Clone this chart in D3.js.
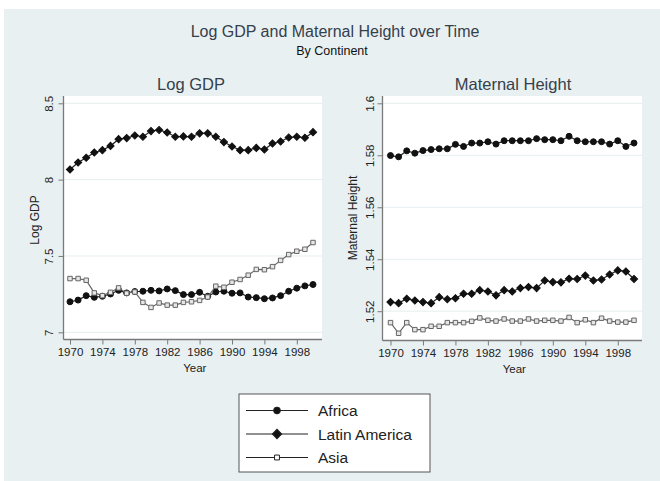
<!DOCTYPE html>
<html>
<head>
<meta charset="utf-8">
<script src="https://cdn.jsdelivr.net/npm/d3@7"></script>
<style>
  body { margin: 0; background: #fff; }
  svg text { font-family: "Liberation Sans", Arial, Helvetica, sans-serif; }
</style>
</head>
<body>
<svg id="chart" width="660" height="481"></svg>
<script>
// values
var years = d3.range(1970, 2001);
var xTicks = [1970, 1974, 1978, 1982, 1986, 1990, 1994, 1998];

var gdpAfrica = [7.200, 7.211, 7.240, 7.229, 7.236, 7.251, 7.275, 7.258, 7.267, 7.269,
    7.275, 7.271, 7.284, 7.273, 7.247, 7.247, 7.262, 7.236, 7.264, 7.269,
    7.256, 7.258, 7.231, 7.227, 7.220, 7.225, 7.240, 7.269, 7.289, 7.304, 7.313];
var gdpLatAm = [8.066, 8.112, 8.143, 8.178, 8.193, 8.221, 8.265, 8.272, 8.289, 8.281,
    8.318, 8.325, 8.309, 8.281, 8.283, 8.281, 8.303, 8.303, 8.281, 8.246,
    8.217, 8.193, 8.193, 8.208, 8.197, 8.237, 8.250, 8.276, 8.281, 8.274, 8.311];
var gdpAsia = [7.352, 7.352, 7.341, 7.258, 7.240, 7.262, 7.291, 7.256, 7.264, 7.196,
    7.163, 7.192, 7.178, 7.178, 7.196, 7.200, 7.209, 7.231, 7.302, 7.295,
    7.328, 7.346, 7.374, 7.412, 7.410, 7.430, 7.471, 7.509, 7.531, 7.544, 7.588];

var heightAfrica = [1.5799, 1.5794, 1.5817, 1.5808, 1.5818, 1.5822, 1.5825, 1.5825, 1.5842, 1.5834,
    1.5847, 1.5847, 1.5852, 1.5843, 1.5856, 1.5856, 1.5856, 1.5856, 1.5864, 1.5860,
    1.5860, 1.5856, 1.5873, 1.5856, 1.5852, 1.5852, 1.5852, 1.5843, 1.5856, 1.5834, 1.5847];
var heightLatAm = [1.5235, 1.5231, 1.5248, 1.5241, 1.5235, 1.5231, 1.5254, 1.5246, 1.5250, 1.5267,
    1.5267, 1.5281, 1.5276, 1.5261, 1.5281, 1.5276, 1.5289, 1.5293, 1.5289, 1.5318,
    1.5312, 1.5311, 1.5325, 1.5324, 1.5337, 1.5318, 1.5322, 1.5341, 1.5357, 1.5353, 1.5324];
var heightAsia = [1.5156, 1.5115, 1.5156, 1.5129, 1.5129, 1.5142, 1.5142, 1.5156, 1.5156, 1.5156,
    1.5161, 1.5174, 1.5165, 1.5162, 1.5170, 1.5162, 1.5162, 1.5170, 1.5162, 1.5165,
    1.5165, 1.5162, 1.5176, 1.5156, 1.5167, 1.5156, 1.5173, 1.5162, 1.5158, 1.5158, 1.5165];

var gdpTicks = [7, 7.5, 8, 8.5];
var heightTicks = [1.52, 1.54, 1.56, 1.58, 1.6];

var seriesNames = ['Africa', 'Latin America', 'Asia'];

var bg = '#e9f0f2';
var axisColor = '#7a7a7a';

var svg = d3.select('#chart');

svg.append('rect')
    .attr('x', 4).attr('y', 9)
    .attr('width', 656).attr('height', 472)
    .attr('fill', bg);

svg.append('text')
    .attr('x', 335).attr('y', 37)
    .attr('text-anchor', 'middle')
    .attr('font-size', '16px')
    .attr('fill', '#34404c')
    .text('Log GDP and Maternal Height over Time');

svg.append('text')
    .attr('x', 332).attr('y', 55)
    .attr('text-anchor', 'middle')
    .attr('font-size', '12.5px')
    .attr('fill', '#111')
    .text('By Continent');

// marker shapes (plot size / legend size)
var markers = {
    'Africa': { type: d3.symbolCircle, size: 28, legendSize: 36, rotate: 0, fill: '#111', stroke: '#111', line: '#222' },
    'Latin America': { type: d3.symbolSquare, size: 26, legendSize: 44, rotate: 45, fill: '#111', stroke: '#111', line: '#222' },
    'Asia': { type: d3.symbolSquare, size: 20, legendSize: 24, rotate: 0, fill: '#e6e6e6', stroke: '#666', line: '#666' }
};

function drawPanel(opts) {
    var g = svg.append('g');

    var x = d3.scaleLinear().domain([1970, 2000]).range([opts.left + opts.padL, opts.right - opts.padR]);
    var y = d3.scaleLinear().domain(opts.yDomain).range(opts.yRange);

    g.append('rect')
        .attr('x', opts.left).attr('y', opts.top)
        .attr('width', opts.right - opts.left)
        .attr('height', opts.bottom - opts.top)
        .attr('fill', '#fff');

    // grid lines
    g.selectAll('.grid')
        .data(opts.yTicks)
        .enter().append('line')
        .attr('x1', opts.left).attr('x2', opts.right)
        .attr('y1', function (d) { return y(d); })
        .attr('y2', function (d) { return y(d); })
        .attr('stroke', '#e6eef0')
        .attr('stroke-width', 1);

    var yAxis = d3.axisLeft(y).tickValues(opts.yTicks).tickSize(5).tickSizeOuter(0)
        .tickFormat(function (d) { return d3.format('')(d); });
    var ya = g.append('g')
        .attr('transform', 'translate(' + opts.left + ',0)')
        .call(yAxis);
    ya.select('.domain').remove();
    ya.append('line')
        .attr('x1', 0).attr('x2', 0)
        .attr('y1', opts.top).attr('y2', opts.bottom)
        .attr('stroke', axisColor).attr('stroke-width', 1.3);
    ya.selectAll('.tick line').attr('stroke', axisColor).attr('stroke-width', 1);
    ya.selectAll('.tick text')
        .attr('transform', 'rotate(-90)')
        .attr('x', 0).attr('y', -opts.tickLabelOff)
        .attr('dy', 0)
        .attr('text-anchor', 'middle')
        .attr('font-size', '11.5px')
        .attr('fill', '#222');

    var xAxis = d3.axisBottom(x).tickValues(xTicks).tickSize(5).tickSizeOuter(0)
        .tickFormat(d3.format('d'));
    var xa = g.append('g')
        .attr('transform', 'translate(0,' + opts.bottom + ')')
        .call(xAxis);
    xa.select('.domain').remove();
    xa.append('line')
        .attr('x1', opts.left).attr('x2', opts.right)
        .attr('y1', 0).attr('y2', 0)
        .attr('stroke', axisColor).attr('stroke-width', 1.3);
    xa.selectAll('.tick line').attr('stroke', axisColor).attr('stroke-width', 1);
    xa.selectAll('.tick text')
        .attr('y', 8)
        .attr('dy', '0.71em')
        .attr('font-size', '11.5px')
        .attr('fill', '#222');

    g.append('text')
        .attr('x', (opts.left + opts.right) / 2 + 2)
        .attr('y', opts.bottom + 32)
        .attr('text-anchor', 'middle')
        .attr('font-size', '11.5px')
        .attr('fill', '#222')
        .text('Year');

    g.append('text')
        .attr('transform', 'translate(' + opts.yTitleX + ',' + opts.yTitleY + ') rotate(-90)')
        .attr('text-anchor', 'middle')
        .attr('font-size', '12px')
        .attr('fill', '#222')
        .text(opts.yTitle);

    g.append('text')
        .attr('x', opts.titleX).attr('y', 90)
        .attr('text-anchor', 'middle')
        .attr('font-size', '16.5px')
        .attr('fill', '#34404c')
        .text(opts.title);

    var line = d3.line()
        .x(function (d, i) { return x(years[i]); })
        .y(function (d) { return y(d); });

    opts.series.forEach(function (vals, si) {
        var m = markers[seriesNames[si]];
        g.append('path')
            .datum(vals)
            .attr('d', line)
            .attr('fill', 'none')
            .attr('stroke', m.line)
            .attr('stroke-width', 1.2);

        g.selectAll('.pt' + si)
            .data(vals)
            .enter().append('path')
            .attr('d', d3.symbol().type(m.type).size(m.size))
            .attr('transform', function (d, i) {
                return 'translate(' + x(years[i]) + ',' + y(d) + ') rotate(' + m.rotate + ')';
            })
            .attr('fill', m.fill)
            .attr('stroke', m.stroke)
            .attr('stroke-width', 1);
    });
}

drawPanel({
    left: 63.5, right: 322, top: 96, bottom: 339.5,
    padL: 6.5, padR: 9,
    yDomain: [7, 8.5], yRange: [332.3, 103.3],
    yTicks: gdpTicks,
    tickLabelOff: 11,
    yTitle: 'Log GDP', yTitleX: 39, yTitleY: 220,
    title: 'Log GDP', titleX: 191,
    series: [gdpAfrica, gdpLatAm, gdpAsia]
});

drawPanel({
    left: 382.5, right: 642, top: 96, bottom: 340.5,
    padL: 8, padR: 8,
    yDomain: [1.52, 1.6], yRange: [311.2, 103.3],
    yTicks: heightTicks,
    tickLabelOff: 9,
    yTitle: 'Maternal Height', yTitleX: 357, yTitleY: 218,
    title: 'Maternal Height', titleX: 513,
    series: [heightAfrica, heightLatAm, heightAsia]
});

// legend
var legend = svg.append('g');
legend.append('rect')
    .attr('x', 239).attr('y', 394)
    .attr('width', 191).attr('height', 78)
    .attr('fill', '#fff')
    .attr('stroke', '#555')
    .attr('stroke-width', 1);

var legendY = d3.scalePoint().domain(seriesNames).range([410.5, 457.5]);

seriesNames.forEach(function (name) {
    var m = markers[name];
    var cy = legendY(name);
    legend.append('line')
        .attr('x1', 246).attr('x2', 308)
        .attr('y1', cy).attr('y2', cy)
        .attr('stroke', '#222')
        .attr('stroke-width', 1.2);
    legend.append('path')
        .attr('d', d3.symbol().type(m.type).size(m.legendSize))
        .attr('transform', 'translate(277,' + cy + ') rotate(' + m.rotate + ')')
        .attr('fill', name === 'Asia' ? '#fff' : m.fill)
        .attr('stroke', '#222')
        .attr('stroke-width', 1);
    legend.append('text')
        .attr('x', 318).attr('y', cy)
        .attr('dy', '0.36em')
        .attr('font-size', '15.5px')
        .attr('fill', '#222')
        .text(name);
});
</script>
</body>
</html>
